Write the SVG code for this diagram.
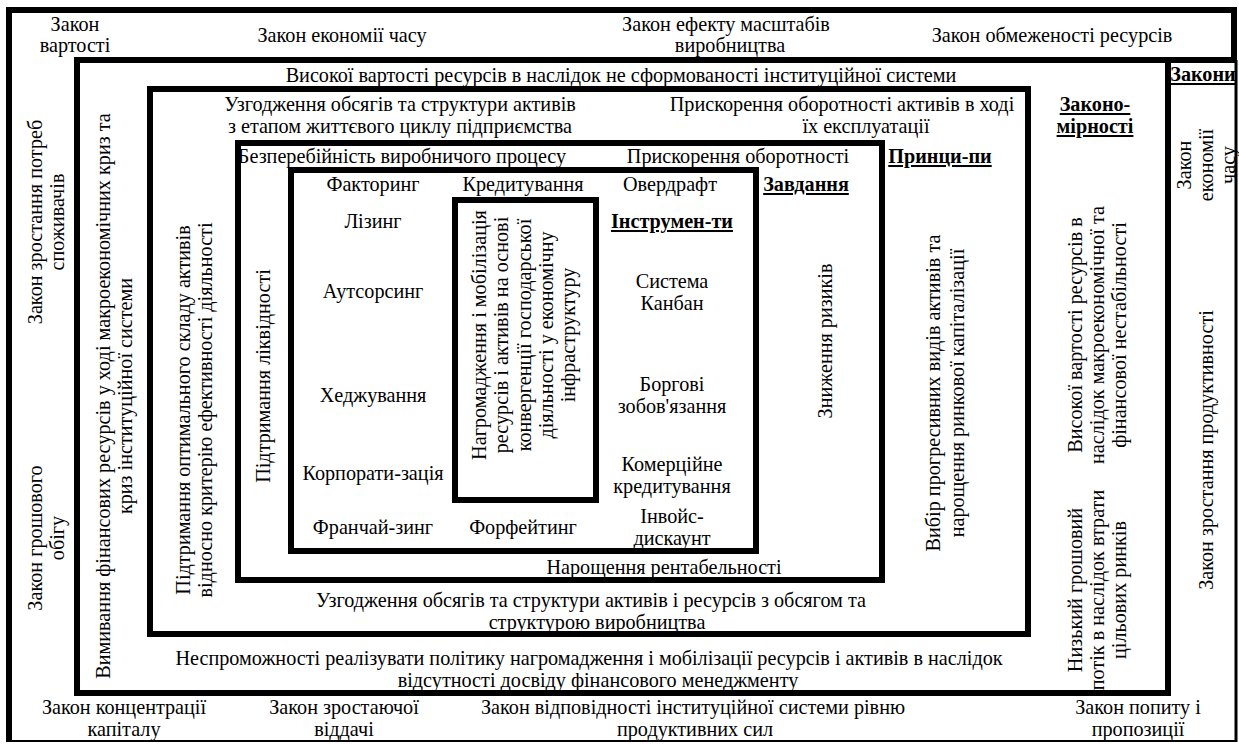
<svg xmlns="http://www.w3.org/2000/svg" width="1239" height="744" viewBox="0 0 1239 744" font-family="'Liberation Serif', 'DejaVu Serif', serif">
<style>
text{font-family:'Liberation Serif','DejaVu Serif',serif}
.t{font-size:20.2px;fill:#000;text-anchor:middle}
.b{font-weight:bold;text-decoration:underline}
.box{fill:none;stroke:#000;stroke-width:6}
.ln{stroke:#000;fill:none}
</style>
<rect width="1239" height="744" fill="#fff"/>
<g id="frame">
<line class="ln" x1="6" y1="10" x2="1237" y2="10" stroke-width="6"/>
<line class="ln" x1="9" y1="7" x2="9" y2="742" stroke-width="6"/>
<line class="ln" x1="1234" y1="7" x2="1234" y2="63" stroke-width="6"/>
<line class="ln" x1="1236" y1="60" x2="1236" y2="742" stroke-width="3"/>
<line class="ln" x1="6" y1="741" x2="1237" y2="741" stroke-width="2"/>
<line class="ln" x1="1168" y1="60" x2="1237" y2="60" stroke-width="6"/>
</g>
<g id="laws">
<text class="t" x="75" y="31">Закон</text>
<text class="t" x="75" y="52">вартості</text>
<text class="t" x="342" y="42">Закон економії часу</text>
<text class="t" x="726" y="31">Закон ефекту масштабів</text>
<text class="t" x="730" y="52">виробництва</text>
<text class="t" x="1052" y="42">Закон обмеженості ресурсів</text>
<text class="t b" x="1203" y="81">Закони</text>
<text class="t" transform="translate(1191,165) rotate(-90)">Закон</text>
<text class="t" transform="translate(1213,165) rotate(-90)">економії</text>
<text class="t" transform="translate(1235,165) rotate(-90)">часу</text>
<text class="t" transform="translate(1213,450) rotate(-90)">Закон зростання продуктивності</text>
<text class="t" transform="translate(42,222) rotate(-90)">Закон зростання потреб</text>
<text class="t" transform="translate(64,222) rotate(-90)">споживачів</text>
<text class="t" transform="translate(42,538) rotate(-90)">Закон грошового</text>
<text class="t" transform="translate(64,538) rotate(-90)">обігу</text>
<text class="t" x="124" y="714">Закон концентрації</text>
<text class="t" x="124" y="736">капіталу</text>
<text class="t" x="344" y="714">Закон зростаючої</text>
<text class="t" x="344" y="736">віддачі</text>
<text class="t" x="693" y="714">Закон відповідності інституційної системи рівню</text>
<text class="t" x="695" y="736">продуктивних сил</text>
<text class="t" x="1138" y="714">Закон попиту і</text>
<text class="t" x="1138" y="736">пропозиції</text>
</g>
<g id="patterns">
<rect class="box" x="77" y="60" width="1091" height="633"/>
<text class="t" x="621" y="82">Високої вартості ресурсів в наслідок не сформованості інституційної системи</text>
<text class="t b" x="1095" y="111">Законо-</text>
<text class="t b" x="1095" y="133">мірності</text>
<text class="t" transform="translate(110,396) rotate(-90)">Вимивання фінансових ресурсів у ході макроекономічних криз та</text>
<text class="t" transform="translate(132,396) rotate(-90)">криз інституційної системи</text>
<text class="t" transform="translate(1082,335) rotate(-90)">Високої вартості ресурсів в</text>
<text class="t" transform="translate(1104,335) rotate(-90)">наслідок макроекономічної та</text>
<text class="t" transform="translate(1126,335) rotate(-90)">фінансової нестабільності</text>
<text class="t" transform="translate(1082,590) rotate(-90)">Низький грошовий</text>
<text class="t" transform="translate(1104,590) rotate(-90)">потік в наслідок втрати</text>
<text class="t" transform="translate(1126,590) rotate(-90)">цільових ринків</text>
<text class="t" x="589" y="665">Неспроможності реалізувати політику нагромадження і мобілізації ресурсів і активів в наслідок</text>
<text class="t" x="598" y="687">відсутності досвіду фінансового менеджменту</text>
</g>
<g id="principles">
<rect class="box" x="150" y="89" width="878" height="545"/>
<text class="t" x="400" y="111">Узгодження обсягів та структури активів</text>
<text class="t" x="400" y="133">з етапом життєвого циклу підприємства</text>
<text class="t" x="842" y="111">Прискорення оборотності активів в ході</text>
<text class="t" x="866" y="133">їх експлуатації</text>
<text class="t b" x="940" y="163">Принци-пи</text>
<text class="t" transform="translate(190,410) rotate(-90)">Підтримання оптимального складу активів</text>
<text class="t" transform="translate(212,410) rotate(-90)">відносно критерію ефективності діяльності</text>
<text class="t" transform="translate(940,393) rotate(-90)">Вибір прогресивних видів активів та</text>
<text class="t" transform="translate(964,393) rotate(-90)">нарощення ринкової капіталізації</text>
<text class="t" x="591" y="607">Узгодження обсягів та структури активів і ресурсів з обсягом та</text>
<text class="t" x="597" y="629">структурою виробництва</text>
</g>
<g id="tasks">
<rect class="box" x="238" y="143" width="644" height="437"/>
<text class="t" x="402" y="163">Безперебійність виробничого процесу</text>
<text class="t" x="738" y="163">Прискорення оборотності</text>
<text class="t b" x="806" y="191">Завдання</text>
<text class="t" transform="translate(270,376) rotate(-90)">Підтримання ліквідності</text>
<text class="t" transform="translate(832,341) rotate(-90)">Зниження ризиків</text>
<text class="t" x="664" y="574">Нарощення рентабельності</text>
</g>
<g id="instruments">
<rect class="box" x="291" y="170" width="465" height="381"/>
<text class="t" x="373" y="191">Факторинг</text>
<text class="t" x="523" y="191">Кредитування</text>
<text class="t" x="670" y="191">Овердрафт</text>
<text class="t" x="373" y="228">Лізинг</text>
<text class="t b" x="672" y="228">Інструмен-ти</text>
<text class="t" x="373" y="298">Аутсорсинг</text>
<text class="t" x="672" y="288">Система</text>
<text class="t" x="672" y="310">Канбан</text>
<text class="t" x="373" y="402">Хеджування</text>
<text class="t" x="672" y="391">Боргові</text>
<text class="t" x="672" y="413">зобов'язання</text>
<text class="t" x="373" y="480">Корпорати-зація</text>
<text class="t" x="672" y="471">Комерційне</text>
<text class="t" x="672" y="493">кредитування</text>
<text class="t" x="373" y="534">Франчай-зинг</text>
<text class="t" x="523" y="534">Форфейтинг</text>
<text class="t" x="672" y="523">Інвойс-</text>
<text class="t" x="672" y="545">дискаунт</text>
</g>
<g id="goal">
<rect class="box" x="455" y="200" width="141" height="300"/>
<text class="t" transform="translate(486,335) rotate(-90)">Нагромадження і мобілізація</text>
<text class="t" transform="translate(508,335) rotate(-90)">ресурсів і активів на основі</text>
<text class="t" transform="translate(531,335) rotate(-90)">конвергенції господарської</text>
<text class="t" transform="translate(553,335) rotate(-90)">діяльності у економічну</text>
<text class="t" transform="translate(575,335) rotate(-90)">інфраструктуру</text>
</g>
<g id="connectors"/>
</svg>
